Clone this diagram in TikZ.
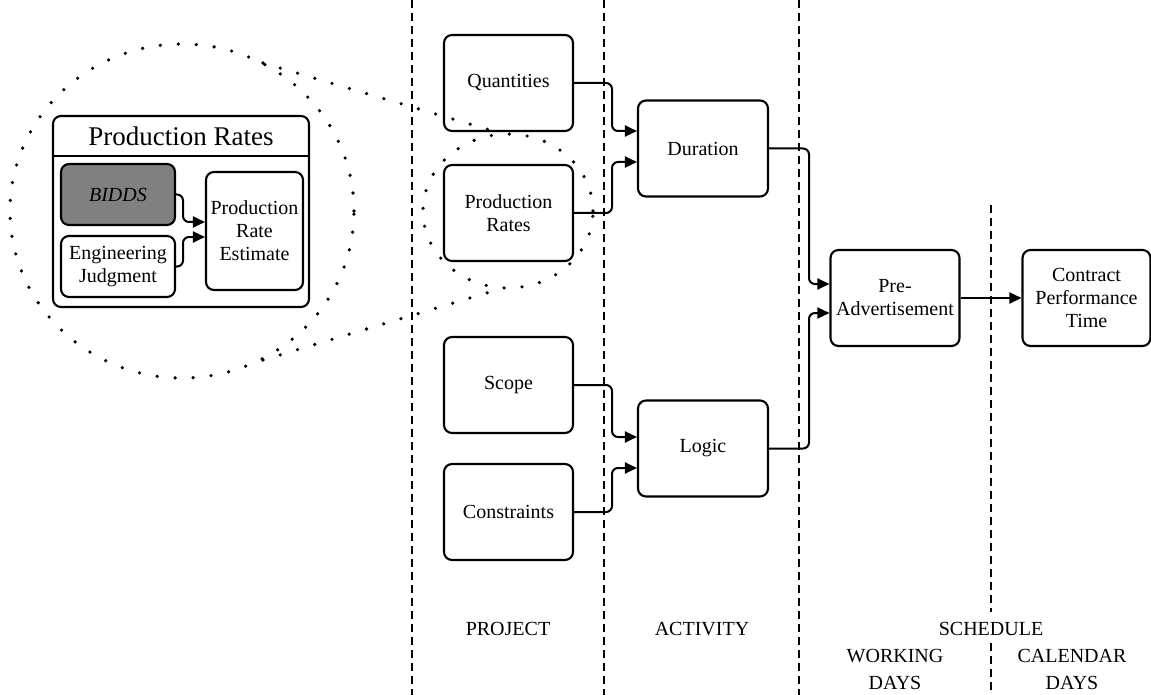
\documentclass[tikz,border=0pt]{standalone}
\usepackage{fontspec}
\setmainfont{Liberation Serif}
\usetikzlibrary{arrows.meta}
\begin{document}
\begin{tikzpicture}[x=1pt,y=-1pt,
 box/.style={draw,line width=2.1pt,rounded corners=8pt,minimum width=129pt,minimum height=96pt,align=center,inner sep=2pt,font=\fontsize{20}{23}\selectfont},
 arr/.style={line width=2pt,rounded corners=6pt,-{Triangle[length=12pt,width=11pt]}},
 sep/.style={dash pattern=on 8pt off 5pt,line width=1.1pt},
 dots/.style={line width=3.6pt,line cap=round,dash pattern=on 0pt off 18pt},
 lab/.style={font=\fontsize{20}{23}\selectfont}]
\useasboundingbox (0,0) rectangle (1151,695);
% separators
\draw[sep] (412,0) -- (412,695);
\draw[sep] (604,0) -- (604,695);
\draw[sep] (799,0) -- (799,695);
\draw[sep] (991,205) -- (991,612);
\draw[sep] (991,643) -- (991,695);
% dotted magnifier
\draw[dots] (182,211) ellipse [x radius=172pt, y radius=167pt];
\draw[dots] (508,211) ellipse [x radius=85pt, y radius=77pt];
\draw[dots] (263,63) -- (500,133);
\draw[dots] (263,360) -- (500,289);
% inset
\node[box, minimum width=256pt, minimum height=191pt] (inset) at (181,211.5) {};
\node[font=\fontsize{27}{30}\selectfont] (title) at (181,136) {Production Rates};
\draw[line width=2.1pt] (inset.west |- 0,156) -- (inset.east |- 0,156);
\node[box, fill=black!50, minimum width=114pt, minimum height=61pt] (bidds) at (118,194.5) {\itshape BIDDS};
\node[box, minimum width=114pt, minimum height=61pt] (eng) at (118,266.5) {Engineering\\Judgment};
\node[box, minimum width=97pt, minimum height=118pt] (est) at (254.5,231) {Production\\Rate\\Estimate};
\draw[arr] (bidds.east) -| (183,222) -- (est.west |- 0,222);
\draw[arr] (eng.east) -| (183,237) -- (est.west |- 0,237);
% main nodes
\node[box] (qty) at (508.5,83) {Quantities};
\node[box] (prr) at (508.5,213) {Production\\Rates};
\node[box] (scope) at (508.5,385) {Scope};
\node[box] (cons) at (508.5,512) {Constraints};
\node[box, minimum width=130pt] (dur) at (703,148.5) {Duration};
\node[box, minimum width=130pt] (logic) at (703,448.5) {Logic};
\node[box] (pre) at (895,298) {Pre-\\Advertisement};
\node[box, minimum width=128pt] (cpt) at (1086.5,298) {Contract\\Performance\\Time};
% connectors
\draw[arr] (qty.east) -| (612,131) -- (dur.west |- 0,131);
\draw[arr] (prr.east) -| (612,162) -- (dur.west |- 0,162);
\draw[arr] (scope.east) -| (612,437) -- (logic.west |- 0,437);
\draw[arr] (cons.east) -| (612,468) -- (logic.west |- 0,468);
\draw[arr] (dur.east) -| (809,284) -- (pre.west |- 0,284);
\draw[arr] (logic.east) -| (809,313) -- (pre.west |- 0,313);
\draw[arr] (pre) -- (cpt);
% labels
\node[lab] (lproj) at (508,629) {PROJECT};
\node[lab] (lact) at (702,629) {ACTIVITY};
\node[lab] (lsch) at (991,629) {SCHEDULE};
\node[lab] (lwork) at (895,656) {WORKING};
\node[lab] (lwd) at (895,683) {DAYS};
\node[lab] (lcal) at (1072,656) {CALENDAR};
\node[lab] (lcd) at (1072,683) {DAYS};
\end{tikzpicture}
\end{document}
